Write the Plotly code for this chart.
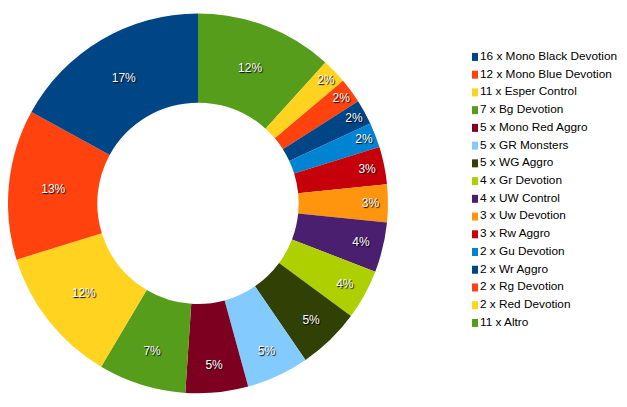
import plotly.graph_objects as go

decks = ["Mono Black Devotion", "Mono Blue Devotion", "Esper Control", "Bg Devotion",
         "Mono Red Aggro", "GR Monsters", "WG Aggro", "Gr Devotion", "UW Control",
         "Uw Devotion", "Rw Aggro", "Gu Devotion", "Wr Aggro", "Rg Devotion",
         "Red Devotion", "Altro"]
counts = [16, 12, 11, 7, 5, 5, 5, 4, 4, 3, 3, 2, 2, 2, 2, 11]
colors = ["#004586", "#ff420e", "#ffd320", "#579d1c", "#7e0021", "#83caff", "#314004",
          "#aecf00", "#4b1f6f", "#ff950e", "#c5000b", "#0084d1", "#004586", "#ff420e",
          "#ffd320", "#579d1c"]

labels = [f"{n} x {d}" for n, d in zip(counts, decks)]
font = "Liberation Sans, Arial, sans-serif"

fig = go.Figure()
# slices run clockwise from 12 o'clock in reverse legend order (Altro first)
fig.add_trace(go.Pie(
    labels=labels[::-1], values=counts[::-1], sort=False, direction="clockwise", rotation=0,
    hole=0.53, marker=dict(colors=colors[::-1], line=dict(width=0)),
    texttemplate="%{percent:.0%}", textposition="inside", insidetextorientation="horizontal",
    textfont=dict(family=font, size=12, color="white", shadow="1px 1px 1px #000"),
    domain=dict(x=[0, 0.606], y=[0.04, 1]), showlegend=False, hoverinfo="label+percent",
))

# legend drawn as a scatter column so the row spacing matches the original
fig.add_trace(go.Scatter(
    x=[0] * len(labels), y=list(range(len(labels))), mode="markers+text",
    marker=dict(symbol="square", size=8, color=colors),
    text=labels, textposition="middle right",
    textfont=dict(family=font, size=11.8, color="#000"),
    showlegend=False, hoverinfo="skip",
))

fig.update_layout(
    width=627, height=407, margin=dict(l=0, r=0, t=0, b=0),
    paper_bgcolor="white", plot_bgcolor="rgba(0,0,0,0)",
    font=dict(family=font, size=12, color="#000"),
    xaxis=dict(domain=[0.74, 1], range=[-0.0125, 1], visible=False, fixedrange=True),
    yaxis=dict(range=[20.19, -2.76], visible=False, fixedrange=True),
)
fig.write_html("out.html")
